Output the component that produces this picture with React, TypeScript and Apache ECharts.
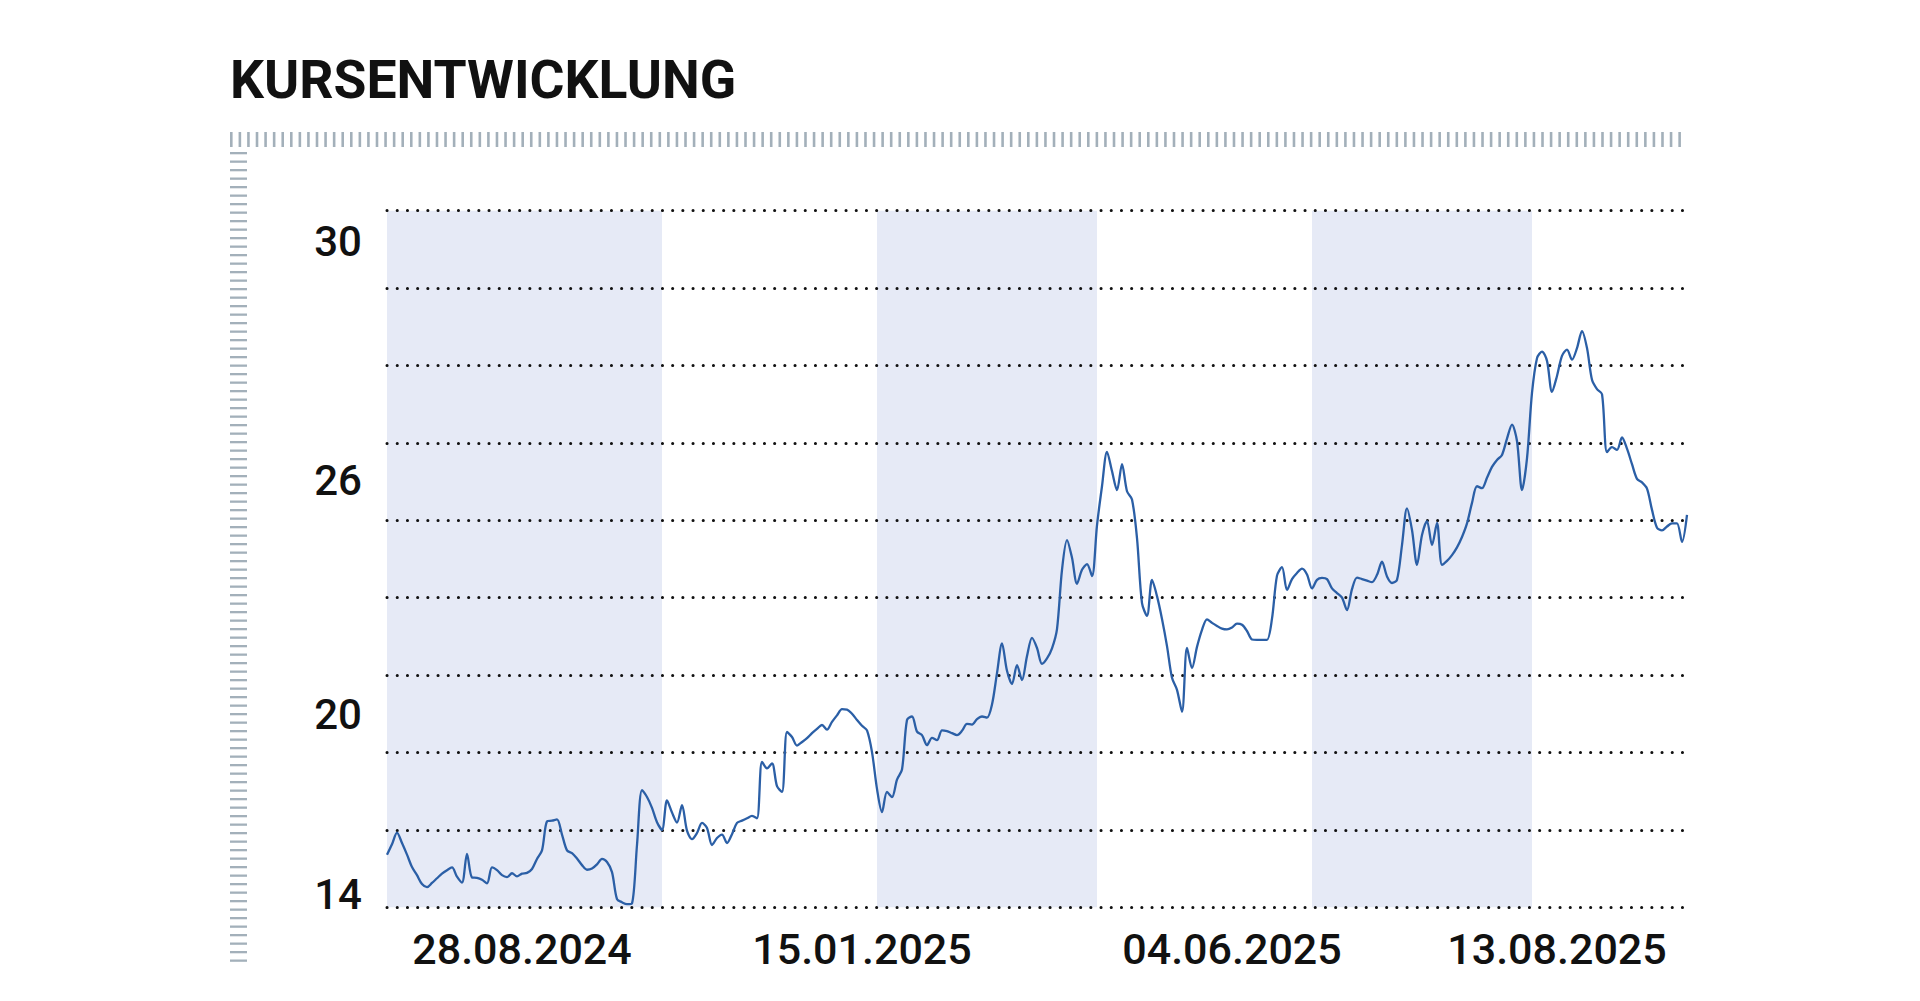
import React, { useEffect, useRef } from "react";
import * as echarts from "echarts";

const TITLE = "KURSENTWICKLUNG";

const pricesA = [
  15.36, 15.63, 15.93, 15.66, 15.36, 15.04, 14.83, 14.6, 14.52, 14.63,
  14.75, 14.87, 14.96, 15.03, 14.79, 14.64, 15.38, 14.77, 14.76, 14.71,
  14.62, 15.03, 14.96, 14.83, 14.78, 14.88, 14.8, 14.87, 14.89, 14.99,
  15.25, 15.47, 16.22, 16.24, 16.27, 15.88, 15.47, 15.4, 15.26, 15.09,
  14.97, 15.0, 15.11, 15.25, 15.17, 14.91, 14.21, 14.13, 14.08, 14.1,
  15.61, 17.03, 16.85, 16.57, 16.2, 16.0, 16.76, 16.45, 16.19, 16.64,
  15.98, 15.76, 15.92, 16.18, 16.05,
];
const pricesB = [
  15.61, 15.79, 15.88, 15.66, 15.89, 16.18, 16.24, 16.3, 16.36, 16.3,
  17.76, 17.59, 17.72, 17.13, 16.98, 18.53, 18.4, 18.18, 18.27, 18.37,
  18.5, 18.61, 18.71, 18.59, 18.79, 18.96, 19.12, 19.11, 19.0, 18.84,
  18.69, 18.57, 18.01, 17.06, 16.46, 16.98, 16.85, 17.3, 17.56, 18.84,
  18.93, 18.54, 18.45, 18.19, 18.38, 18.32, 18.57, 18.55, 18.5, 18.45,
  18.56, 18.74, 18.72, 18.86, 18.93, 18.9, 19.24, 20.05, 20.82, 20.11,
  19.77, 20.26, 19.87, 20.49, 20.96,
];
const pricesC = [
  20.7, 20.29, 20.43, 20.69, 21.19, 22.72, 23.49, 23.03, 22.36, 22.72,
  22.87, 22.56, 23.87, 24.88, 25.77, 25.27, 24.78, 25.45, 24.75, 24.54,
  23.54, 21.86, 21.53, 22.46, 22.04, 21.45, 20.75, 19.93, 19.62, 19.05,
  20.7, 20.18, 20.73, 21.17, 21.44, 21.35, 21.27, 21.2, 21.18, 21.23,
  21.33, 21.3, 21.14, 20.92, 20.91, 20.91, 20.91, 21.46, 22.57, 22.79,
  22.2, 22.48, 22.64, 22.75, 22.6, 22.24, 22.46, 22.51, 22.48, 22.24,
  22.12, 22.0, 21.68, 22.22, 22.52,
];
const pricesD = [
  22.48, 22.44, 22.4, 22.59, 22.93, 22.55, 22.38, 22.46, 23.36, 24.31,
  23.75, 22.85, 23.62, 23.98, 23.36, 23.93, 22.85, 22.95, 23.1, 23.3,
  23.57, 23.92, 24.45, 24.88, 24.83, 25.1, 25.38, 25.56, 25.69, 26.11,
  26.47, 26.05, 24.78, 25.6, 27.29, 28.19, 28.36, 28.12, 27.32, 27.73,
  28.25, 28.41, 28.15, 28.45, 28.89, 28.45, 27.63, 27.39, 27.26, 25.76,
  25.89, 25.82, 26.14, 25.85, 25.45, 25.07, 24.98, 24.82, 24.27, 23.81,
  23.74, 23.84, 23.92, 23.92, 23.44, 24.14,
];
const prices = [...pricesA, ...pricesB, ...pricesC, ...pricesD];
const categories = prices.map((_, i) => String(i));

// X-axis tick labels (observation index -> label)
const xLabelIndex = [27, 95, 169, 234];
const xLabelText = ["28.08.2024", "15.01.2025", "04.06.2025", "13.08.2025"];

// Y grid scale and the printed value labels
const yMin = 14;
const yMax = 32;
const yStep = 2;
const yLabelValue = [14.33, 18.97, 25.04, 31.2];
const yLabelText = ["14", "20", "26", "30"];

// Shaded periods (observation index ranges)
const shadedStart = [0, 98, 185];
const shadedEnd = [55, 142, 229];

const LINE_COLOR = "#2b5fa6";
const BAND_COLOR = "#e6eaf6";
const TICK_COLOR = "#a3b0ba";
const TEXT_COLOR = "#111111";

function buildDecor() {
  const els: any[] = [];
  for (let k = 0; k < 170; k++) {
    els.push({
      type: "rect",
      silent: true,
      shape: { x: 230 + k * 8.57, y: 132, width: 2.6, height: 15 },
      style: { fill: TICK_COLOR },
    });
  }
  for (let k = 0; k < 96; k++) {
    els.push({
      type: "rect",
      silent: true,
      shape: { x: 230, y: 152 + k * 8.5, width: 17, height: 2.3 },
      style: { fill: TICK_COLOR },
    });
  }
  els.push({
    type: "text",
    silent: true,
    style: {
      x: 230,
      y: 79,
      text: TITLE,
      fontFamily: "Roboto",
      fontSize: 53.5,
      fontWeight: "bold",
      fill: TEXT_COLOR,
      verticalAlign: "middle",
      align: "left",
    },
  });
  return els;
}

export default function App() {
  const ref = useRef<HTMLDivElement>(null);
  useEffect(() => {
    document.body.style.margin = "0";
    const chart = echarts.init(ref.current as HTMLDivElement, null, {
      renderer: "svg",
    });
    chart.setOption({
      animation: false,
      backgroundColor: "#ffffff",
      textStyle: { fontFamily: "Roboto" },
      grid: { left: 387, right: 233, top: 210.7, bottom: 93.7, containLabel: false },
      xAxis: {
        type: "category",
        data: categories,
        boundaryGap: false,
        axisLine: { show: false },
        axisTick: { show: false },
        splitLine: { show: false },
        axisLabel: {
          interval: (i: number) => xLabelIndex.includes(i),
          formatter: (_v: string, i: number) => {
            const k = xLabelIndex.indexOf(i);
            return k >= 0 ? xLabelText[k] : "";
          },
          fontFamily: "Roboto",
          fontSize: 43,
          fontWeight: 500,
          color: TEXT_COLOR,
          margin: 20,
          lineHeight: 44,
        },
      },
      yAxis: [
        {
          type: "value",
          min: yMin,
          max: yMax,
          interval: yStep,
          z: 3,
          axisLine: { show: false },
          axisTick: { show: false },
          axisLabel: { show: false },
          splitLine: {
            show: true,
            lineStyle: { color: TEXT_COLOR, width: 3, type: [0.1, 10.1], cap: "round" },
          },
        },
        {
          type: "value",
          min: yMin,
          max: yMax,
          position: "left",
          axisLine: { show: false },
          axisTick: { show: false },
          splitLine: { show: false },
          axisLabel: {
            customValues: yLabelValue,
            formatter: (v: number) => {
              let best = 0;
              yLabelValue.forEach((p, k) => {
                if (Math.abs(p - v) < Math.abs(yLabelValue[best] - v)) best = k;
              });
              return yLabelText[best];
            },
            fontFamily: "Roboto",
            fontSize: 42,
            fontWeight: 500,
            color: TEXT_COLOR,
            margin: 25,
          },
        },
      ],
      series: [
        {
          type: "line",
          data: prices,
          yAxisIndex: 0,
          z: 1,
          silent: true,
          showSymbol: false,
          lineStyle: { opacity: 0 },
          markArea: {
            silent: true,
            itemStyle: { color: BAND_COLOR },
            data: shadedStart.map((s, k) => [
              { xAxis: categories[s] },
              { xAxis: categories[shadedEnd[k]] },
            ]),
          },
        },
        {
          type: "line",
          data: prices,
          yAxisIndex: 0,
          z: 5,
          showSymbol: false,
          smooth: 0.3,
          lineStyle: { color: LINE_COLOR, width: 2.3 },
        },
      ],
      graphic: buildDecor(),
    });
    return () => chart.dispose();
  }, []);
  return <div ref={ref} style={{ width: 1920, height: 1001 }} />;
}
